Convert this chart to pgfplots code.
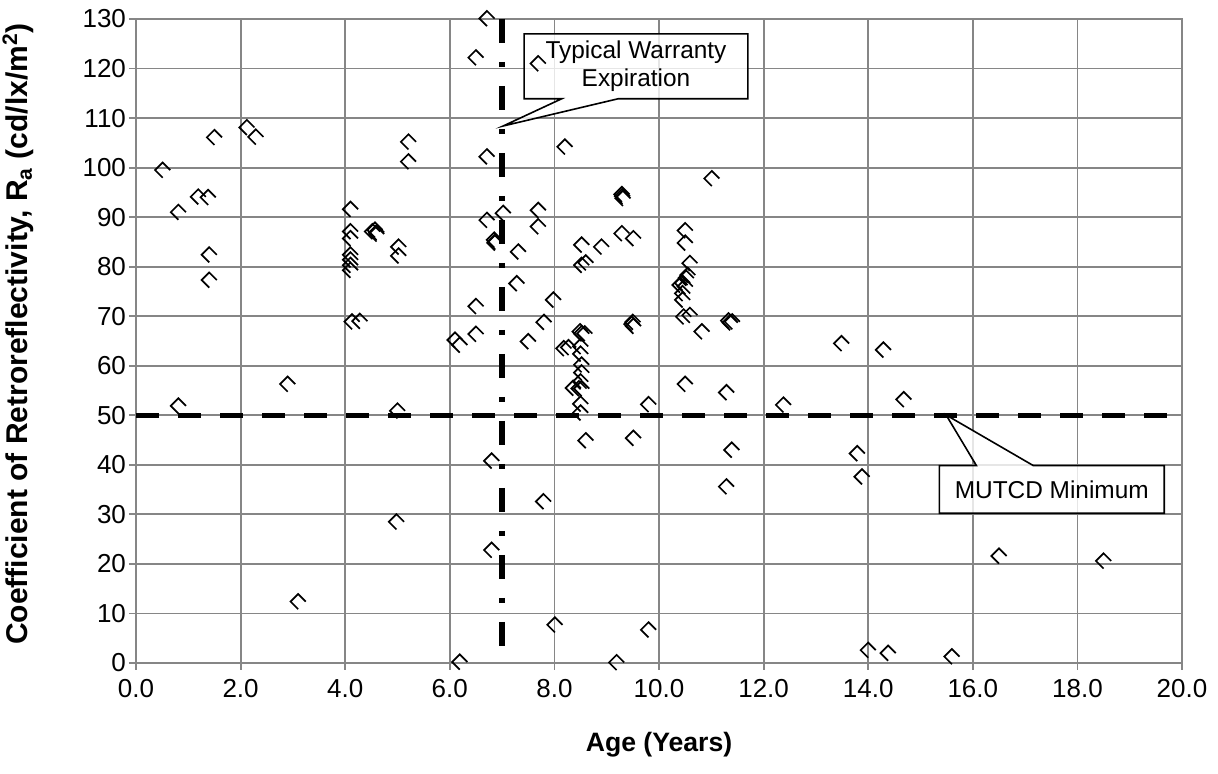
\documentclass[border=0pt]{standalone}
\usepackage{fontspec}
\setmainfont{Liberation Sans}
\usepackage{pgfplots}
\usepackage{pgfplotstable}
\pgfplotsset{compat=1.18}
\definecolor{gridgray}{RGB}{134,134,134}

\pgfdeclareplotmark{halfdiamond}{%
  \pgfpathmoveto{\pgfqpoint{\pgfplotmarksize}{0pt}}%
  \pgfpathlineto{\pgfqpoint{0pt}{\pgfplotmarksize}}%
  \pgfpathlineto{\pgfqpoint{-\pgfplotmarksize}{0pt}}%
  \pgfpathlineto{\pgfqpoint{0pt}{-\pgfplotmarksize}}%
  \pgfusepathqstroke}

\pgfplotstableread{
x y
0.51 99.5
0.81 91.0
0.81 51.9
1.19 94.1
1.38 94.0
1.50 106.1
1.40 82.4
1.40 77.3
2.12 108.1
2.29 106.2
2.90 56.3
3.10 12.4
4.10 91.6
4.10 87.1
4.10 85.7
4.10 82.4
4.10 81.4
4.10 80.3
4.10 79.3
4.13 68.9
4.28 69.0
4.52 87.1
4.57 87.4
4.60 86.9
4.60 86.6
4.98 28.5
5.00 50.9
5.02 84.0
5.02 82.2
5.21 105.2
5.21 101.2
6.10 65.2
6.19 64.2
6.19 0.2
6.50 122.2
6.50 72.0
6.50 66.4
6.71 130.1
6.71 102.2
6.71 89.4
6.80 40.8
6.80 22.8
6.85 85.4
6.87 85.0
6.86 84.8
7.02 90.8
7.28 76.6
7.31 83.0
7.50 64.9
7.69 121.0
7.69 91.4
7.69 88.1
7.80 68.8
7.79 32.6
7.98 73.3
8.01 7.7
8.20 104.2
8.18 63.5
8.27 63.7
8.49 66.9
8.52 66.5
8.58 66.5
8.52 84.4
8.52 80.3
8.60 80.8
8.36 55.5
8.50 63.9
8.50 62.4
8.52 60.2
8.52 58.6
8.50 56.8
8.47 55.4
8.52 55.4
8.50 52.3
8.50 50.5
8.60 44.9
8.90 84.0
9.19 0.1
9.29 94.6
9.30 94.2
9.31 93.8
9.29 86.7
9.51 85.7
9.50 68.8
9.48 68.4
9.51 68.0
9.51 45.4
9.80 52.2
9.80 6.7
10.50 87.3
10.50 84.8
10.59 80.7
10.55 78.3
10.52 77.7
10.45 76.7
10.40 76.3
10.50 76.0
10.45 74.6
10.45 73.3
10.47 69.9
10.59 70.2
10.50 56.3
10.82 66.9
11.01 97.8
11.33 69.1
11.36 68.7
11.40 68.9
11.29 54.6
11.39 43.0
11.29 35.6
12.38 52.1
13.49 64.5
13.79 42.3
13.88 37.6
14.00 2.6
14.29 63.2
14.38 2.0
14.68 53.2
15.60 1.3
16.50 21.6
18.50 20.6
}\ratable

\begin{document}
\begin{tikzpicture}
\path[use as bounding box] (-68pt,-55.5pt) rectangle (541pt,331.5pt);
\begin{axis}[
  at={(0,0)}, anchor=south west,
  scale only axis, width=523pt, height=322pt,
  xmin=0, xmax=20, ymin=0, ymax=130,
  xtick={0,2,...,20}, ytick={0,10,...,130},
  xtick pos=left, ytick pos=left,
  grid=major,
  grid style={color=gridgray, line width=0.9pt},
  axis line style={color=gridgray, line width=0.9pt},
  major tick style={color=gridgray, line width=0.9pt},
  tick align=outside, major tick length=3.5pt,
  /pgf/number format/assume math mode=true,
  ticklabel style={font=\fontsize{13}{16}\selectfont, text=black},
  xticklabel style={yshift=-1pt, /pgf/number format/.cd, fixed, fixed zerofill, precision=1},
  yticklabel style={xshift=2pt, /pgf/number format/.cd, fixed, precision=0},
  every axis x label/.style={at={(axis description cs:0.5,-0.1273)}, anchor=center, font=\fontsize{13.3}{16}\selectfont\bfseries},
  every axis y label/.style={at={(axis description cs:-0.1128,0.511)}, rotate=90, anchor=center, font=\fontsize{15}{18}\selectfont\bfseries},
  xlabel={Age (Years)},
  ylabel={Coefficient of Retroreflectivity, R\textsubscript{a} (cd/lx/m\textsuperscript{2})},
  clip=false,
]
\addplot[black, line width=2.5pt, line cap=butt, dash pattern=on 11.5pt off 9.5pt, forget plot] coordinates {(0,50) (20,50)};
\addplot[black, line width=2.8pt, line cap=butt, dash pattern=on 12pt off 9.5pt on 2.5pt off 9.5pt, forget plot] coordinates {(7,130) (7,0)};
\addplot[only marks, mark=halfdiamond, mark size=3.8pt, mark options={line width=0.85pt, draw=black, solid}] table[x=x, y=y] {\ratable};

\draw[black, line width=0.8pt, fill=white, fill opacity=0.8]
  (7.42,127) -- (11.70,127) -- (11.70,113.9) -- (9.22,113.9) -- (7.02,108.4) -- (8.14,113.9) -- (7.42,113.9) -- cycle;
\node[font=\fontsize{12.2}{14}\selectfont, align=center] at (9.56,120.45) {Typical Warranty\\Expiration};

\draw[black, line width=0.8pt, fill=white, fill opacity=0.8]
  (15.36,39.83) -- (16.07,39.83) -- (15.49,50.06) -- (17.16,39.83) -- (19.66,39.83) -- (19.66,30.22) -- (15.36,30.22) -- cycle;
\node[font=\fontsize{12.2}{14}\selectfont] at (17.51,35.0) {MUTCD Minimum};
\end{axis}
\end{tikzpicture}
\end{document}
